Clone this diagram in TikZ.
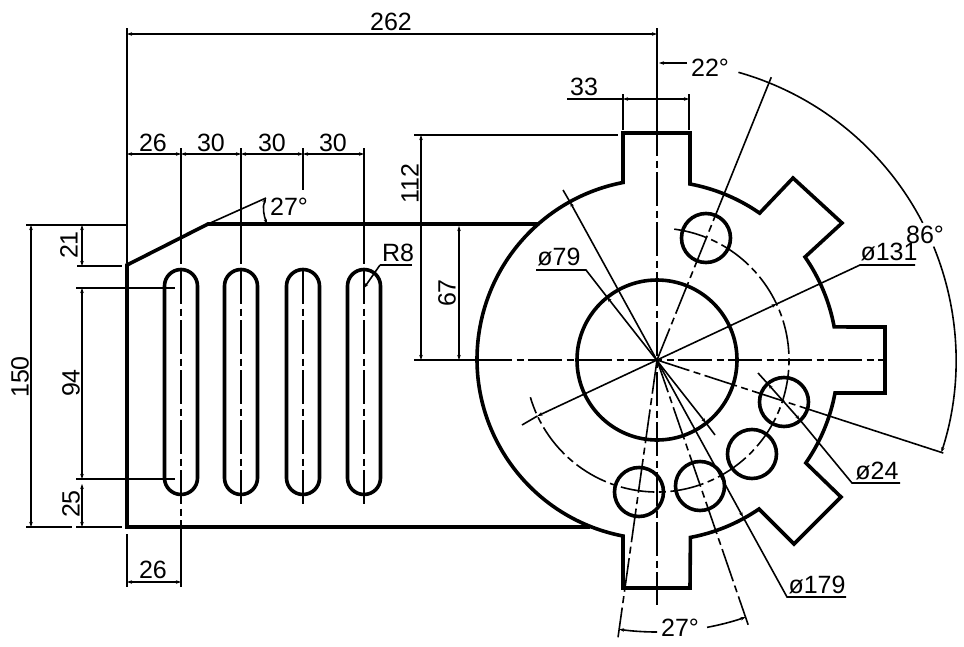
\documentclass[tikz,border=0pt]{standalone}
\usepackage{fontspec}
\setmainfont{Liberation Sans}
\usetikzlibrary{arrows.meta}
\tikzset{
  outline/.style={line width=3.6pt,line join=miter,black},
  thinline/.style={line width=1.6pt,black},
  center/.style={line width=1.6pt,black,dash pattern=on 34pt off 4.5pt on 7pt off 4.5pt},
  dimline/.style={thinline,{Stealth[length=5pt,width=3.5pt]}-{Stealth[length=5pt,width=3.5pt]}},
  tipend/.style={thinline,-{Stealth[length=5pt,width=3.5pt]}},
  lbl/.style={inner sep=0pt,font=\fontsize{25}{25}\selectfont},
  vlbl/.style={lbl,rotate=90}
}
\begin{document}
\begin{tikzpicture}[x=1pt,y=-1pt]
\useasboundingbox (0,0) rectangle (964,646);
\fill[white] (0,0) rectangle (964,646);
\coordinate (C) at (657,360);

% Outline of the plate
\draw[outline] (539,224) -- (208,224) -- (127,265) -- (127,527) -- (590,527);
\draw[outline] (623,184) -- (623,133) -- (690,133) -- (690,184)
  arc[start angle=-79.4,end angle=-55.2,radius=180]
  -- (793,178) -- (842,223) -- (805,257)
  arc[start angle=-34.8,end angle=-10.5,radius=180]
  -- (885,327) -- (885,393) -- (835,393)
  arc[start angle=10.5,end angle=34.8,radius=180]
  -- (841,497) -- (794,544) -- (759,509)
  arc[start angle=55.6,end angle=79.4,radius=180]
  -- (690,588) -- (623,588) -- (623,536)
  arc[start angle=100.9,end angle=259.1,radius=180] -- cycle;

% Slots
\foreach \sx in {181,241,303,364}{
  \draw[outline] (\sx-16.5,286) arc[start angle=180,end angle=360,radius=16.5]
    -- (\sx+16.5,478) arc[start angle=0,end angle=180,radius=16.5] -- cycle;
}

% Holes
\draw[outline] (C) circle[radius=80];
\foreach \hx/\hy in {706/238,784/402,752/454,700/486,639/492}{
  \draw[outline] (\hx,\hy) circle[radius=24.5];
}

% Center lines
\draw[thinline] (657,28) -- (657,122);
\draw[center] (657,122) -- (657,605);
\draw[thinline] (414,360) -- (476,360);
\draw[center] (478,360) -- (885,360);
\draw[thinline] (181,148) -- (181,264);
\draw[center] (181,270) -- (181,518);
\draw[thinline] (181,520) -- (181,587);
\draw[thinline] (241,148) -- (241,264);
\draw[center] (241,270) -- (241,507);
\draw[thinline] (303,148) -- (303,190);
\draw[center] (303,270) -- (303,507);
\draw[thinline] (364,148) -- (364,264);
\draw[center] (364,270) -- (364,507);
% pitch circle
\draw[center] ([shift={(-82.5:132)}]C) arc[start angle=-82.5,end angle=163.6,radius=132];
% radial center lines
\draw[center] (C) -- ([shift={(-68:180)}]C);
\draw[thinline] ([shift={(-68:180)}]C) -- ([shift={(-68:305)}]C);
\draw[center] (C) -- ([shift={(18:160)}]C);
\draw[thinline] ([shift={(18:160)}]C) -- ([shift={(18:301)}]C);
\draw[center] (C) -- ([shift={(71:280)}]C);
\draw[center] (C) -- ([shift={(98:280)}]C);

% Horizontal dimensions
\draw[dimline] (127,34) -- (657,34);
\node[lbl] (d262) at (391,22) {262};
\draw[thinline] (127,28) -- (127,263);
\draw[dimline] (127,154) -- (181,154);
\draw[dimline] (181,154) -- (241,154);
\draw[dimline] (241,154) -- (303,154);
\draw[dimline] (303,154) -- (364,154);
\node[lbl] (d26a) at (153,143) {26};
\node[lbl] (d30a) at (211,143) {30};
\node[lbl] (d30b) at (272,143) {30};
\node[lbl] (d30c) at (333,143) {30};
\draw[thinline] (127,534) -- (127,587);
\draw[dimline] (127,582) -- (181,582);
\node[lbl] (d26b) at (153,570) {26};
\draw[thinline] (623,94) -- (623,130);
\draw[thinline] (689,94) -- (689,130);
\draw[thinline] (567,99) -- (623,99);
\draw[dimline] (623,99) -- (689,99);
\node[lbl] (d33) at (584,87) {33};

% Vertical dimensions
\draw[thinline] (414,135) -- (618,135);
\draw[dimline] (421,135) -- (421,360);
\node[vlbl] (d112) at (410,184) {112};
\draw[dimline] (459,226) -- (459,360);
\node[vlbl] (d67) at (447,293) {67};
\draw[thinline] (26,225) -- (127,225);
\draw[thinline] (26,527) -- (72,527);
\draw[thinline] (76,527) -- (122,527);
\draw[dimline] (31,225) -- (31,527);
\node[vlbl] (d150) at (20,377) {150};
\draw[thinline] (77,266) -- (122,266);
\draw[dimline] (82,225) -- (82,266);
\node[vlbl] (d21) at (69,245) {21};
\draw[thinline] (76,288) -- (175,288);
\draw[thinline] (76,479) -- (175,479);
\draw[dimline] (82,288) -- (82,479);
\node[vlbl] (d94) at (71,383) {94};
\draw[dimline] (82,484) -- (82,527);
\node[vlbl] (d25) at (71,504) {25};

% Chamfer angle
\draw[thinline] (208,224) -- (266,198);
\draw[dimline] (266,198) .. controls (262,207) and (264,216) .. (267,224);
\node[lbl] (a27a) at (289,207) {27°};

% R8
\draw[thinline] (412,265) -- (380,265);
\draw[tipend] (380,265) -- (364,288);
\node[lbl] (dr8) at (398,253) {R8};

% Angles
\draw[tipend] (687,63) -- (659,63);
\node[lbl] (a22) at (710,68) {22°};
\draw[thinline] ([shift={(-74.2:299)}]C) arc[start angle=-74.2,end angle=-27.3,radius=299];
\draw[tipend] ([shift={(-22.3:299)}]C) arc[start angle=-22.3,end angle=18,radius=299];
\node[lbl] (a86) at (925,235) {86°};
\draw[tipend] ([shift={(90:272)}]C) arc[start angle=90,end angle=98,radius=272];
\draw[tipend] ([shift={(79.4:272)}]C) arc[start angle=79.4,end angle=71,radius=272];
\node[lbl] (a27b) at (680,628) {27°};

% Diameter leaders
\draw[thinline] (536,270) -- (586,270) -- (607,297);
\draw[dimline] (607,297) -- (706,423);
\draw[thinline] (706,423) -- (715,435);
\node[lbl] (p79) at (559,257) {ø79};
\draw[thinline] (915,265) -- (860,265) -- (776.6,304);
\draw[dimline] (776.6,304) -- (537.4,416);
\draw[thinline] (537.4,416) -- (522,425);
\node[lbl] (p131) at (889,252) {ø131};
\draw[thinline] (846,597) -- (787,597) -- (743,517);
\draw[dimline] (743,517) -- (570,202);
\draw[thinline] (570,202) -- (563,190);
\node[lbl] (p179) at (817,585) {ø179};
\draw[thinline] (900,483) -- (852,483) -- (800,420);
\draw[dimline] (800,420) -- (768,384);
\draw[thinline] (768,384) -- (758,373);
\node[lbl] (p24) at (877,471) {ø24};
\end{tikzpicture}
\end{document}
